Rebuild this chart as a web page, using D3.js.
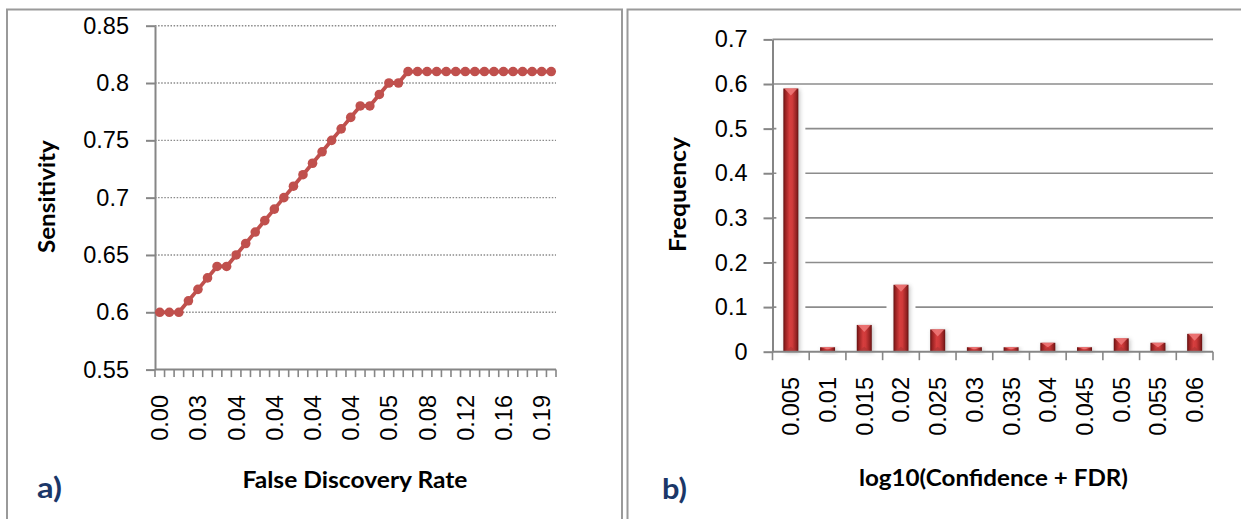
<!DOCTYPE html>
<html><head><meta charset="utf-8">
<script src="https://cdn.jsdelivr.net/npm/d3@7"></script>
<style>body{margin:0;background:#fff} svg{display:block}</style>
</head><body>
<svg id="c" width="1241" height="519"></svg>
<script>
// ---- Data (panel a) ----
const fdrLabels = ["0.00","0.01","0.01","0.02","0.03","0.03","0.03","0.04","0.04","0.04","0.04","0.04",
  "0.04","0.04","0.04","0.04","0.04","0.04","0.04","0.04","0.04","0.04","0.05","0.05",
  "0.05","0.06","0.06","0.07","0.08","0.09","0.10","0.11","0.12","0.13","0.14","0.15",
  "0.16","0.17","0.17","0.18","0.19","0.20"];
const sensitivity = [0.60,0.60,0.60,0.61,0.62,0.63,0.64,0.64,0.65,0.66,0.67,0.68,
  0.69,0.70,0.71,0.72,0.73,0.74,0.75,0.76,0.77,0.78,0.78,0.79,
  0.80,0.80,0.81,0.81,0.81,0.81,0.81,0.81,0.81,0.81,0.81,0.81,
  0.81,0.81,0.81,0.81,0.81,0.81];
const sensTicks = [0.55,0.6,0.65,0.7,0.75,0.8,0.85];
// ---- Data (panel b) ----
const freqCategories = ["0.005","0.01","0.015","0.02","0.025","0.03","0.035","0.04","0.045","0.05","0.055","0.06"];
const frequency = [0.59,0.01,0.06,0.15,0.05,0.01,0.01,0.02,0.01,0.03,0.02,0.04];
const freqTicks = [0,0.1,0.2,0.3,0.4,0.5,0.6,0.7];

const svg = d3.select("#c");
const defs = svg.append("defs");
const FONT = "'Liberation Sans', Arial, sans-serif";
const BOLD = "Lato, 'Open Sans', sans-serif";
const AX = "#868686";
const TICKSIZE = 23.5;

// panel frames
svg.append("rect").attr("x",7).attr("y",9.5).attr("width",615).attr("height",530)
  .attr("fill","none").attr("stroke","#9a9a9a").attr("stroke-width",2);
svg.append("rect").attr("x",627.5).attr("y",9.5).attr("width",640).attr("height",530)
  .attr("fill","none").attr("stroke","#9a9a9a").attr("stroke-width",2);

function styleAxis(g){
  g.select(".domain").attr("stroke",AX).attr("stroke-width",2);
  g.selectAll(".tick line").attr("stroke",AX).attr("stroke-width",2);
  g.selectAll(".tick text").attr("font-family",FONT).attr("font-size",TICKSIZE)
    .attr("fill","#000");
}

// ================= Panel a =================
const xA = d3.scaleBand().domain(d3.range(sensitivity.length)).range([155,556]).padding(0);
const yA = d3.scaleLinear().domain([0.55,0.85]).range([369.6,25.7]);
const gA = svg.append("g");
gA.selectAll("line.grid").data(sensTicks.slice(1)).join("line")
  .attr("x1",155).attr("x2",556).attr("y1",d=>yA(d)).attr("y2",d=>yA(d))
  .attr("stroke","#8a8a8a").attr("stroke-width",1.4).attr("stroke-dasharray","1.5,1.6");
gA.append("g").attr("transform","translate(155,0)")
  .call(d3.axisLeft(yA).tickValues(sensTicks).tickFormat(d=>d).tickSize(9).tickSizeOuter(0).tickPadding(17))
  .call(styleAxis);
gA.append("line").attr("x1",155).attr("x2",556).attr("y1",yA(0.55)).attr("y2",yA(0.55))
  .attr("stroke",AX).attr("stroke-width",2);
gA.selectAll("line.xt").data(d3.range(sensitivity.length+1)).join("line")
  .attr("x1",i=>155+i*xA.step()).attr("x2",i=>155+i*xA.step())
  .attr("y1",yA(0.55)).attr("y2",yA(0.55)+7.5).attr("stroke",AX).attr("stroke-width",1.6);
gA.selectAll("text.xl").data(d3.range(0,sensitivity.length,4)).join("text")
  .attr("transform",i=>`translate(${xA(i)+xA.bandwidth()/2},395) rotate(-90)`)
  .attr("text-anchor","end").attr("dy","0.36em")
  .attr("font-family",FONT).attr("font-size",TICKSIZE)
  .text(i=>fdrLabels[i]);
const line = d3.line().x((d,i)=>xA(i)+xA.bandwidth()/2).y(d=>yA(d));
gA.append("path").datum(sensitivity).attr("d",line).attr("fill","none")
  .attr("stroke","#c0504d").attr("stroke-width",3.8).attr("stroke-linejoin","round");
gA.selectAll("circle").data(sensitivity).join("circle")
  .attr("cx",(d,i)=>xA(i)+xA.bandwidth()/2).attr("cy",d=>yA(d)).attr("r",4.8)
  .attr("fill","#c0504d");
gA.append("text").attr("transform","translate(55,196.6) rotate(-90)").attr("text-anchor","middle")
  .attr("font-family",BOLD).attr("font-weight",700).attr("font-size",23.5)
  .attr("textLength",113).attr("lengthAdjust","spacingAndGlyphs").text("Sensitivity");
gA.append("text").attr("x",355).attr("y",488).attr("text-anchor","middle")
  .attr("font-family",BOLD).attr("font-weight",700).attr("font-size",23.5)
  .attr("textLength",225).attr("lengthAdjust","spacingAndGlyphs").text("False Discovery Rate");
gA.append("text").attr("x",37).attr("y",498).attr("font-family",BOLD).attr("font-weight",700)
  .attr("font-size",28).attr("textLength",25).attr("lengthAdjust","spacingAndGlyphs")
  .attr("fill","#1b3768").text("a)");

// ================= Panel b =================
const xB = d3.scaleBand().domain(freqCategories).range([772.5,1213]).padding(0);
const yB = d3.scaleLinear().domain([0,0.7]).range([351.7,39.4]);
const gB = svg.append("g");
const grad = defs.append("linearGradient").attr("id","barGrad").attr("x1",0).attr("x2",1).attr("y1",0).attr("y2",0);
[[0,"#651010"],[0.14,"#982222"],[0.42,"#d63e3e"],[0.6,"#cf3a3a"],[0.86,"#962323"],[1,"#651010"]]
  .forEach(s=>grad.append("stop").attr("offset",s[0]).attr("stop-color",s[1]));
const sh = defs.append("filter").attr("id","blur").attr("x","-50%").attr("y","-50%").attr("width","200%").attr("height","200%");
sh.append("feGaussianBlur").attr("stdDeviation",2);

gB.selectAll("line.grid").data(freqTicks.slice(1)).join("line")
  .attr("x1",772.5).attr("x2",1213).attr("y1",d=>yB(d)).attr("y2",d=>yB(d))
  .attr("stroke","#8c8c8c").attr("stroke-width",1.6);
gB.append("g").attr("transform","translate(772.5,0)")
  .call(d3.axisLeft(yB).tickValues(freqTicks).tickFormat(d=>d).tickSize(9).tickSizeOuter(0).tickPadding(16))
  .call(styleAxis);
const BW = 15;
const bars = gB.selectAll("g.bar").data(frequency).join("g").attr("class","bar");
bars.append("rect").attr("x",(d,i)=>xB(freqCategories[i])+(xB.bandwidth()-BW)/2-7)
  .attr("y",d=>yB(d)-2).attr("width",BW+14).attr("height",d=>yB(0)-yB(d)+2).attr("fill","#fff");
bars.append("rect").attr("x",(d,i)=>xB(freqCategories[i])+(xB.bandwidth()-BW)/2+1.5)
  .attr("y",d=>yB(d)+1).attr("width",BW).attr("height",d=>yB(0)-yB(d))
  .attr("fill","#777").attr("opacity",0.45).attr("filter","url(#blur)");
bars.append("rect").attr("x",(d,i)=>xB(freqCategories[i])+(xB.bandwidth()-BW)/2)
  .attr("y",d=>yB(d)).attr("width",BW).attr("height",d=>yB(0)-yB(d)).attr("fill","url(#barGrad)");
bars.append("path").attr("d",(d,i)=>{const x=xB(freqCategories[i])+(xB.bandwidth()-BW)/2, y=yB(d), h=Math.min(7,(yB(0)-yB(d))/2);
    return `M${x+1},${y}L${x+BW-1},${y}L${x+BW/2},${y+h}Z`;})
  .attr("fill","#f07a7a").attr("opacity",0.85);
bars.append("path").attr("d",(d,i)=>{const x=xB(freqCategories[i])+(xB.bandwidth()-BW)/2, y=yB(0), h=Math.min(5,(yB(0)-yB(d))/2);
    return `M${x+1},${y}L${x+BW-1},${y}L${x+BW/2},${y-h}Z`;})
  .attr("fill","#b03535").attr("opacity",0.7);
gB.append("line").attr("x1",772.5).attr("x2",1213).attr("y1",yB(0)).attr("y2",yB(0))
  .attr("stroke",AX).attr("stroke-width",2);
gB.selectAll("line.xt").data(d3.range(freqCategories.length+1)).join("line")
  .attr("x1",i=>772.5+i*xB.step()).attr("x2",i=>772.5+i*xB.step())
  .attr("y1",yB(0)).attr("y2",yB(0)+8.5).attr("stroke",AX).attr("stroke-width",1.6);
gB.selectAll("text.xl").data(freqCategories).join("text")
  .attr("transform",d=>`translate(${xB(d)+xB.bandwidth()/2},377) rotate(-90)`)
  .attr("text-anchor","end").attr("dy","0.36em")
  .attr("font-family",FONT).attr("font-size",TICKSIZE).text(d=>d);
gB.append("text").attr("transform","translate(686,194.5) rotate(-90)").attr("text-anchor","middle")
  .attr("font-family",BOLD).attr("font-weight",700).attr("font-size",23.5)
  .attr("textLength",115).attr("lengthAdjust","spacingAndGlyphs").text("Frequency");
gB.append("text").attr("x",993.5).attr("y",486).attr("text-anchor","middle")
  .attr("font-family",BOLD).attr("font-weight",700).attr("font-size",23.5)
  .attr("textLength",269).attr("lengthAdjust","spacingAndGlyphs").text("log10(Confidence + FDR)");
gB.append("text").attr("x",662).attr("y",499).attr("font-family",BOLD).attr("font-weight",700)
  .attr("font-size",28).attr("textLength",25).attr("lengthAdjust","spacingAndGlyphs")
  .attr("fill","#1b3768").text("b)");
</script>
</body></html>
